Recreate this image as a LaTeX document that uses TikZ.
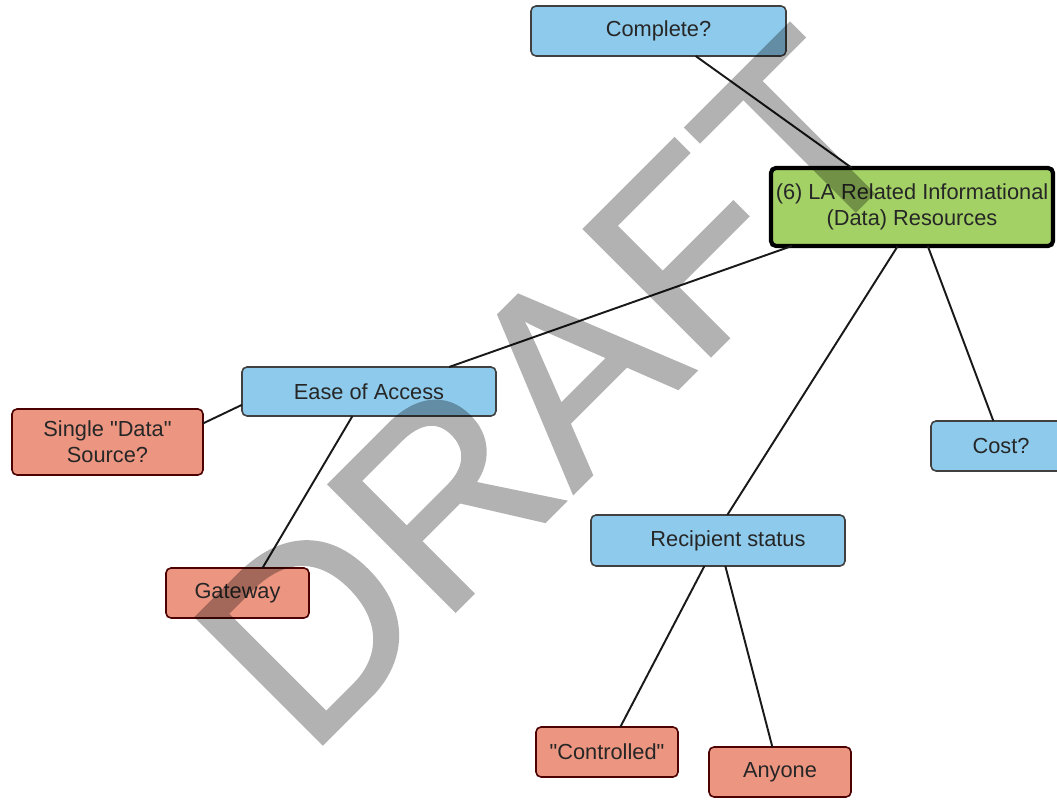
\documentclass[tikz,border=0pt]{standalone}
\usepackage{fontspec}
\setmainfont{Liberation Sans}[Ligatures=TeXOff]
\newfontfamily\draftfont{Liberation Sans}[FakeBold=1.2]
\definecolor{boxblue}{HTML}{8ECAEB}
\definecolor{boxsalmon}{HTML}{EC9682}
\definecolor{boxgreen}{HTML}{A3D165}
\definecolor{labeltext}{HTML}{262626}
\tikzset{
    basebox/.style={rectangle,rounded corners=0.05cm,outer sep=0pt,inner sep=0pt,align=center,
        text=labeltext,font=\fontsize{6.2}{7.4}\selectfont},
    bluebox/.style={basebox,draw=black!75,line width=0.45pt,fill=boxblue},
    salmonbox/.style={basebox,draw=black!70!red,line width=0.45pt,fill=boxsalmon},
    mainbox/.style={basebox,draw=black,line width=1.2pt,fill=boxgreen},
    link/.style={draw=black!90,line width=0.55pt},
    draftmark/.style={inner sep=0pt,text=black,font=\draftfont\fontsize{74}{74}\selectfont}
}
\begin{document}
\begin{tikzpicture}
                \useasboundingbox (0,0) rectangle (10.57,-8.01);
                \clip (0,0) rectangle (10.57,-8.01);
                % boxes
                \node[bluebox,minimum width=2.55cm,minimum height=0.50cm] (complete) at (6.585,-0.31) {Complete?};
                \node[mainbox,minimum width=2.82cm,minimum height=0.78cm] (resources) at (9.12,-2.07) {(6) LA Related Informational\\(Data) Resources};
                \node[bluebox,minimum width=2.54cm,minimum height=0.49cm] (access) at (3.69,-3.915) {Ease of Access};
                \node[salmonbox,minimum width=1.91cm,minimum height=0.66cm] (single) at (1.075,-4.42) {Single "Data"\\Source?};
                \node[bluebox,minimum width=1.40cm,minimum height=0.50cm] (cost) at (10.01,-4.46) {Cost?};
                \node[bluebox,minimum width=2.54cm,minimum height=0.51cm] (recipient) at (7.18,-5.405) {\hspace{0.2cm}Recipient status};
                \node[salmonbox,minimum width=1.43cm,minimum height=0.50cm] (gateway) at (2.375,-5.93) {Gateway};
                \node[salmonbox,minimum width=1.42cm,minimum height=0.50cm] (controlled) at (6.07,-7.52) {"Controlled"};
                \node[salmonbox,minimum width=1.42cm,minimum height=0.50cm] (anyone) at (7.80,-7.72) {Anyone};
                % links
                \draw[link] (complete.-34.4) -- (resources.147);
                \draw[link] (resources.-162.4) -- (access.17.4);
                \draw[link] (resources.-110.6) -- (recipient.70.6);
                \draw[link] (resources.-68.2) -- (cost.107.7);
                \draw[link] (access.186.1) -- (single.11.8);
                \draw[link] (access.-124.8) -- (gateway.45.6);
                \draw[link] (recipient.-118.8) -- (controlled.62.5);
                \draw[link] (recipient.-74.6) -- (anyone.107.7);
                % watermark
                \begin{scope}[transparency group,opacity=0.3]
                    \node[draftmark,rotate=45] (draft) at (5.51,-3.89) {DRAFT};
                \end{scope}
\end{tikzpicture}
\end{document}
